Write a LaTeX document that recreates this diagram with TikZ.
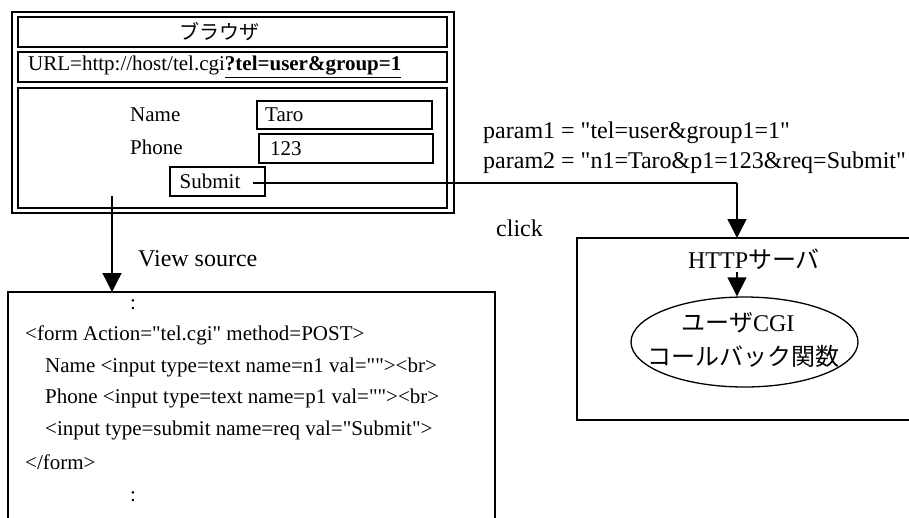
\documentclass[tikz,border=0pt]{standalone}
\usepackage{fontspec}
\setmainfont{Liberation Serif}[Ligatures=TeXOff]
\newfontfamily\cjk{Noto Sans CJK JP}
\usetikzlibrary{arrows.meta,shapes.geometric}
\newcommand\dq{\char34\relax}
\begin{document}
\begin{tikzpicture}[x=1pt,y=-1pt,
  box/.style={draw,line width=1.3pt,inner sep=0pt,minimum width=#1},
  lbl/.style={inner sep=0pt,font=\fontsize{21}{24}\selectfont},
  big/.style={inner sep=0pt,font=\fontsize{24}{28}\selectfont},
  jp/.style={inner sep=0pt,font=\fontsize{20}{24}\selectfont\cjk},
  arr/.style={line width=1.3pt,-{Triangle[width=19pt,length=19pt]}},
  conn/.style={line width=1.3pt}]
\clip (0,0) rectangle (909,517);
% browser
\node[box=442pt,minimum height=201pt] (outer) at (233,112.5) {};
\node[box=429pt,minimum height=30pt] (title) at (232.5,32) {};
\node[jp] (titletxt) at (219,32) {ブラウザ};
\node[box=429pt,minimum height=30pt] (url) at (232.5,67) {};
\node[lbl,anchor=west] (urltxt) at (28,67) {URL=http://host/tel.cgi\underline{\textbf{?tel=user\&group=1}}};
\node[box=429pt,minimum height=120pt] (form) at (232.5,148) {};
\node[lbl,anchor=west] (namelbl) at (130,115) {Name};
\node[lbl,anchor=west] (phonelbl) at (130,147) {Phone};
\node[box=175pt,minimum height=28pt] (taro) at (344.5,115) {};
\node[lbl,anchor=west] (tarotxt) at (265,115) {Taro};
\node[box=174pt,minimum height=29pt] (phone) at (346,148.5) {};
\node[lbl,anchor=west] (phonetxt) at (270,148.5) {123};
\node[box=95pt,minimum height=29pt] (submit) at (217.5,181.5) {};
\node[lbl] (submittxt) at (210,181) {Submit};
% source
\draw[line width=1.3pt] (8,540) -- (8,292) -- (495,292) -- (495,540);
\coordinate (srctop) at (112,292);
\node[lbl] (dots1) at (133,305) {:};
\node[lbl,anchor=west] (l1) at (25,335) {<form Action=\dq tel.cgi\dq{} method=POST>};
\node[lbl,anchor=west] (l2) at (45,367) {Name <input type=text name=n1 val=\dq\dq><br>};
\node[lbl,anchor=west] (l3) at (45,398) {Phone <input type=text name=p1 val=\dq\dq><br>};
\node[lbl,anchor=west] (l4) at (45,430) {<input type=submit name=req val=\dq Submit\dq>};
\node[lbl,anchor=west] (l5) at (25,462) {</form>};
\node[lbl] (dots2) at (133,497) {:};
\node[big,anchor=west] (vs) at (138,259) {View source};
\coordinate (vs0) at (112,196);
\draw[arr] (vs0) -- (srctop);
% params
\node[big,anchor=west] (p1) at (483,133) {param1 = \dq tel=user\&group1=1\dq};
\node[big,anchor=west] (p2) at (483,163) {param2 = \dq n1=Taro\&p1=123\&req=Submit\dq};
\node[big,anchor=west] (click) at (496,228) {click};
% server
\draw[line width=1.3pt] (930,238) -- (577,238) -- (577,420) -- (930,420);
\coordinate (httptop) at (737,238);
\node[big] (httptxt) at (754,259) {HTTP{\cjk サーバ}};
\node[draw,ellipse,line width=1.3pt,minimum width=227pt,minimum height=90pt,inner sep=0pt] (cgi) at (744.5,342) {};
\node[big] (cgi1) at (738,323) {{\cjk ユーザ}CGI};
\node[big,font=\fontsize{24}{28}\selectfont\cjk] (cgi2) at (743,356) {コールバック関数};
\coordinate (s0) at (253,183);
\draw[conn] (s0) -- (737,183) coordinate (corner);
\draw[arr] (corner) -- (httptop);
\coordinate (h0) at (737,272);
\draw[arr] (h0) -- (cgi.north -| h0);
\end{tikzpicture}
\end{document}
